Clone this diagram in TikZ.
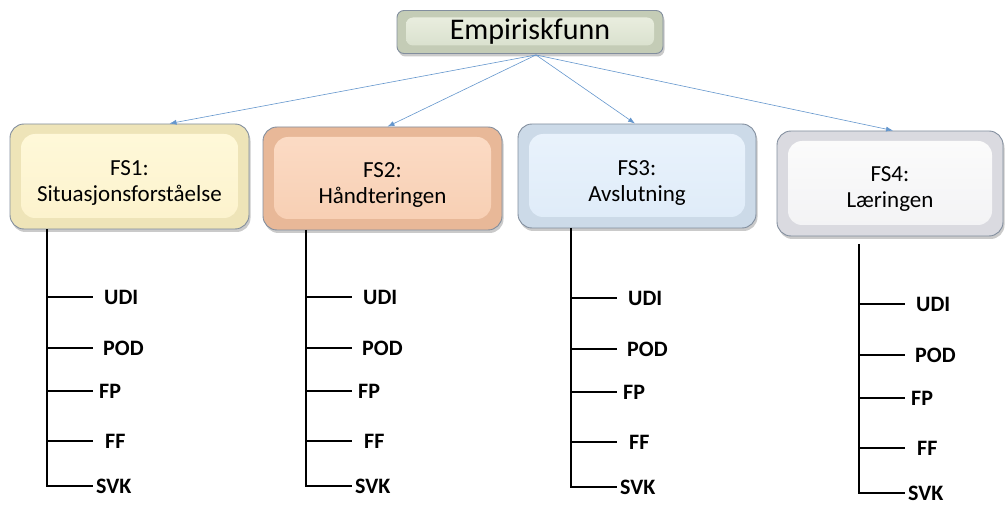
\documentclass[tikz,border=0pt]{standalone}
\usepackage{fontspec}
\setmainfont{Carlito}
\usetikzlibrary{shadows,arrows.meta}
\definecolor{boxborder}{RGB}{130,142,158}
\definecolor{arrowblue}{RGB}{100,150,205}
\definecolor{topout}{RGB}{196,204,182}
\definecolor{topinA}{RGB}{236,240,226}
\definecolor{topinB}{RGB}{214,222,202}
\definecolor{fsAout}{RGB}{238,228,184}
\definecolor{fsAinA}{RGB}{255,249,218}
\definecolor{fsAinB}{RGB}{252,242,204}
\definecolor{fsBout}{RGB}{232,184,152}
\definecolor{fsBinA}{RGB}{252,220,198}
\definecolor{fsBinB}{RGB}{247,206,178}
\definecolor{fsCout}{RGB}{204,218,232}
\definecolor{fsCinA}{RGB}{234,243,252}
\definecolor{fsCinB}{RGB}{222,235,248}
\definecolor{fsDout}{RGB}{218,218,224}
\definecolor{fsDinA}{RGB}{252,252,252}
\definecolor{fsDinB}{RGB}{242,242,244}
\newcommand\leaftree[4]{%
  \coordinate (v#1) at (#2,#3);
  \foreach \nm/\lab/\yy/\gap in {udi/UDI/297/11, pod/POD/348/10, fp/FP/391/6, ff/FF/441/12, svk/SVK/486/3}{
    \node[leaf, inner xsep=\gap pt] (\nm#1) at (#2+46, \yy+#4) {\lab};
  }
  \draw[treeline] (v#1) |- (svk#1.west);
  \foreach \nm in {udi,pod,fp,ff}{\draw[treeline] (\nm#1.west -| v#1) -- (\nm#1.west);}
}
\begin{document}
\begin{tikzpicture}[x=1pt,y=-1pt,
  bevel/.style n args={3}{draw=boxborder, line width=0.9pt, fill=#1,
    align=center, inner sep=0pt,
    drop shadow={shadow xshift=1.5pt, shadow yshift=-3pt, opacity=0.35, fill=black!60},
    path picture={\shade[top color=#2, bottom color=#3]
      ([shift={(11pt,-10pt)}]path picture bounding box.north west) rectangle
      ([shift={(-11pt,11pt)}]path picture bounding box.south east);}},
  fsbox/.style={rounded corners=14pt, font=\fontsize{23}{26}\selectfont},
  topbox/.style={rounded corners=7pt, font=\fontsize{30}{32}\selectfont},
  leaf/.style={anchor=west, inner ysep=0pt, font=\bfseries\fontsize{22}{24}\selectfont},
  treeline/.style={line width=2.8pt, black},
  conn/.style={-{Latex[length=7pt,width=5pt]}, arrowblue, line width=0.6pt}
]
\useasboundingbox (0,0) rectangle (1005,505);

\node[bevel={topout}{topinA}{topinB}, topbox, minimum width=266pt, minimum height=43pt, path picture={\shade[top color=topinA, bottom color=topinB]
      ([shift={(9pt,-7pt)}]path picture bounding box.north west) rectangle
      ([shift={(-9pt,8pt)}]path picture bounding box.south east);}] (top) at (530,32) {Empiriskfunn};

\node[bevel={fsAout}{fsAinA}{fsAinB}, fsbox, minimum width=239pt, minimum height=105pt] (fs1) at (129.5,176.5) {\rule{0pt}{27pt}FS1:\\Situasjonsforståelse};
\node[bevel={fsBout}{fsBinA}{fsBinB}, fsbox, minimum width=239pt, minimum height=103pt] (fs2) at (382.5,178.5) {\rule{0pt}{28pt}FS2:\\Håndteringen};
\node[bevel={fsCout}{fsCinA}{fsCinB}, fsbox, minimum width=238pt, minimum height=104pt] (fs3) at (637,176) {\rule{0pt}{28pt}FS3:\\Avslutning};
\node[bevel={fsDout}{fsDinA}{fsDinB}, fsbox, minimum width=226pt, minimum height=105pt] (fs4) at (890,183.5) {\rule{0pt}{26pt}FS4:\\Læringen};

\coordinate (src) at ([xshift=6pt,yshift=-1pt]top.south);
\draw[conn] (src) -- ([xshift=40pt]fs1.north);
\draw[conn] (src) -- ([xshift=5pt]fs2.north);
\draw[conn] (src) -- ([xshift=-2pt]fs3.north);
\draw[conn] (src) -- ([xshift=3pt]fs4.north);

\leaftree{1}{47}{229}{0}
\leaftree{2}{306}{230}{0}
\leaftree{3}{571}{228}{1}
\leaftree{4}{859}{244}{7}
\end{tikzpicture}
\end{document}
